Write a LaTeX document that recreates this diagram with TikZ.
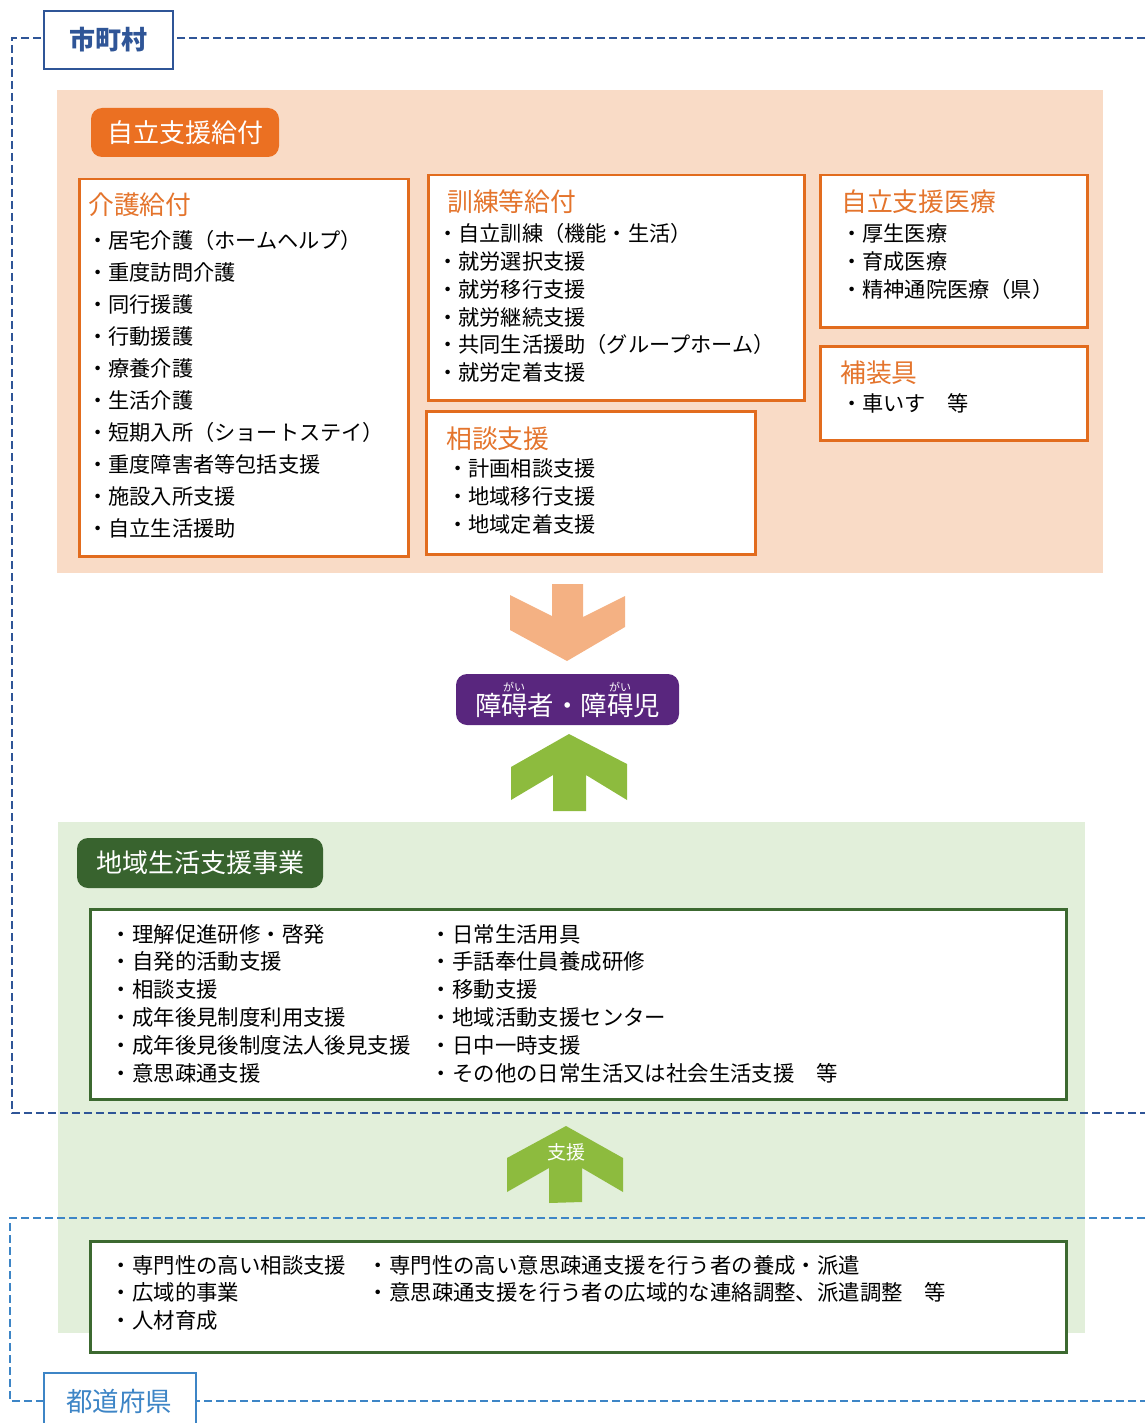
\documentclass[tikz,border=0pt]{standalone}
\usepackage{fontspec}
\setmainfont{Noto Sans CJK JP}
\definecolor{obg}{RGB}{249,219,198}
\definecolor{oline}{RGB}{226,108,30}
\definecolor{ohead}{RGB}{228,116,44}
\definecolor{opill}{RGB}{235,112,34}
\definecolor{oarrow}{RGB}{244,177,131}
\definecolor{purp}{RGB}{89,38,126}
\definecolor{garrow}{RGB}{141,187,62}
\definecolor{gbg}{RGB}{226,239,218}
\definecolor{gpill}{RGB}{56,99,46}
\definecolor{gline}{RGB}{60,105,48}
\definecolor{dblue}{RGB}{47,85,151}
\definecolor{lblue}{RGB}{61,133,198}
\begin{document}
\begin{tikzpicture}[x=1pt,y=-1pt,
  obox/.style={draw=oline,line width=2.5pt,fill=white,anchor=north west,inner sep=0},
  gbox/.style={draw=gline,line width=2.5pt,fill=white,anchor=north west,inner sep=0},
  head/.style={anchor=base west,inner sep=0,text=ohead,font=\fontsize{25.8}{30}\selectfont},
  item/.style={anchor=base west,inner sep=0,font=\fontsize{21.2}{24}\selectfont},
  gitem/.style={anchor=base west,inner sep=0,font=\fontsize{21.4}{25}\selectfont},
  pill/.style={rounded corners=11pt,text=white,inner sep=0,font=\fontsize{26}{30}\selectfont},
  lbox/.style={fill=white,line width=2pt,inner sep=0,anchor=north west},
  dashA/.style={draw=dblue,line width=2pt,dash pattern=on 8pt off 4pt},
  dashB/.style={draw=lblue,line width=2pt,dash pattern=on 8pt off 4pt}]
\useasboundingbox (0,0) rectangle (1145,1423);
% backgrounds
\fill[obg] (57,90) rectangle (1103,573);
\fill[gbg] (58,822) rectangle (1085,1333);
% dashed frames
\draw[dashA] (1145,38) -- (12,38) -- (12,1113) -- (1145,1113);
\draw[dashB] (1145,1218) -- (10,1218) -- (10,1401) -- (1145,1401);
% label boxes
\node[lbox,draw=dblue,minimum width=129,minimum height=58] (shi) at (43,10) {};
\node[text=dblue,font=\fontsize{26}{30}\selectfont\bfseries] (shit) at (shi.center) {市町村};
\node[lbox,draw=lblue,minimum width=152,minimum height=70] (ken) at (43,1372) {};
\node[text=lblue,font=\fontsize{26.5}{30}\selectfont] (kent) at (119,1401) {都道府県};
% pill 自立支援給付
\node[pill,fill=opill,minimum width=188,minimum height=49] (jiritsu) at (185,132.5) {自立支援給付};
% 介護給付
\node[obox,minimum width=329,minimum height=377] (kaigo) at (78,178) {};
\node[head] (kaigoh) at (88,215) {介護給付};
\foreach \t [count=\i] in {・居宅介護（ホームヘルプ）,・重度訪問介護,・同行援護,・行動援護,・療養介護,・生活介護,・短期入所（ショートステイ）,・重度障害者等包括支援,・施設入所支援,・自立生活援助}
  \node[item] (k\i) at (87,248+32.1*\i-32.1) {\t};
% 訓練等給付
\node[obox,minimum width=376,minimum height=225] (kunren) at (427,174) {};
\node[head] (kunrenh) at (447,212) {訓練等給付};
\foreach \t [count=\i] in {・自立訓練（機能・生活）,・就労選択支援,・就労移行支援,・就労継続支援,・共同生活援助（グループホーム）,・就労定着支援}
  \node[item] (r\i) at (437,241.6+27.8*\i-27.8) {\t};
% 自立支援医療
\node[obox,minimum width=267,minimum height=152] (iryo) at (819,174) {};
\node[head] (iryoh) at (841,212) {自立支援医療};
\foreach \t [count=\i] in {・厚生医療,・育成医療,・精神通院医療（県）}
  \node[item] (m\i) at (841,241.6+27.8*\i-27.8) {\t};
% 補装具
\node[obox,minimum width=267,minimum height=94] (hoso) at (819,345) {};
\node[head] (hosoh) at (840,382) {補装具};
\node[item] (h1) at (841,411.6) {・車いす　等};
% 相談支援
\node[obox,minimum width=329,minimum height=143] (sodan) at (425,410) {};
\node[head] (sodanh) at (446,448) {相談支援};
\foreach \t [count=\i] in {・計画相談支援,・地域移行支援,・地域定着支援}
  \node[item] (s\i) at (447,476.6+27.8*\i-27.8) {\t};
% orange arrow
\fill[oarrow] (510,595) -- (552,616) -- (552,584) -- (583,584) -- (583,617) -- (625,596) -- (625,627) -- (567,661) -- (510,630) -- cycle;
% purple pill
\node[pill,fill=purp,minimum width=223,minimum height=51,text=purp] (sha) at (567.5,699.5) {};
\node[inner sep=0,text=white,font=\fontsize{26.4}{30}\selectfont,anchor=base] (shat) at (567.5,715) {障碍者・障碍児};
\node[inner sep=0,text=white,font=\fontsize{11}{12}\selectfont] (ru1) at (514,687) {がい};
\node[inner sep=0,text=white,font=\fontsize{11}{12}\selectfont] (ru2) at (620,687) {がい};
% green arrow
\fill[garrow] (569,734) -- (627,764) -- (627,800) -- (586,775) -- (586,811) -- (553,811) -- (553,775) -- (511,800) -- (511,767) -- cycle;
% 地域生活支援事業
\node[pill,fill=gpill,minimum width=246,minimum height=50] (chiiki) at (200,863) {地域生活支援事業};
\node[gbox,minimum width=976,minimum height=190] (gmain) at (89,908) {};
\foreach \t [count=\i] in {・理解促進研修・啓発,・自発的活動支援,・相談支援,・成年後見制度利用支援,・成年後見後制度法人後見支援,・意思疎通支援}
  \node[gitem] (a\i) at (110.6,942+27.8*\i-27.8) {\t};
\foreach \t [count=\i] in {・日常生活用具,・手話奉仕員養成研修,・移動支援,・地域活動支援センター,・日中一時支援,・その他の日常生活又は社会生活支援　等}
  \node[gitem] (b\i) at (430.6,942+27.8*\i-27.8) {\t};
% 支援 arrow
\fill[garrow] (566,1126) -- (623,1158) -- (623,1192) -- (582,1168) -- (582,1202) -- (549,1203) -- (549,1168) -- (507,1192) -- (507,1158) -- cycle;
\node[inner sep=0,text=white,font=\fontsize{19}{22}\selectfont] (shien) at (566,1152) {支援};
% bottom box
\node[gbox,minimum width=976,minimum height=111] (gbot) at (89,1240) {};
\foreach \t [count=\i] in {・専門性の高い相談支援,・広域的事業,・人材育成}
  \node[gitem] (c\i) at (110.6,1273+27.8*\i-27.8) {\t};
\foreach \t [count=\i] in {・専門性の高い意思疎通支援を行う者の養成・派遣,・意思疎通支援を行う者の広域的な連絡調整、派遣調整　等}
  \node[gitem] (d\i) at (367.6,1273+27.8*\i-27.8) {\t};
\end{tikzpicture}
\end{document}
